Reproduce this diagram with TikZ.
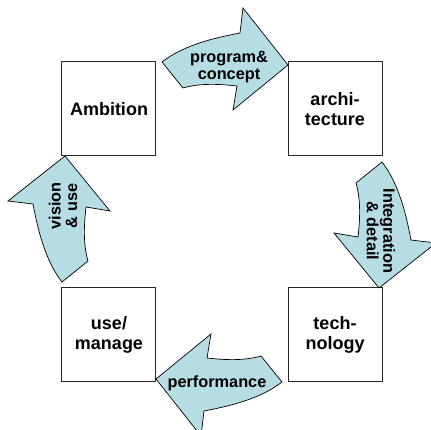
\documentclass[tikz,border=0pt]{standalone}
\usepackage{fontspec}
\setmainfont{Liberation Sans}
\definecolor{arrowblue}{HTML}{B6DDE3}
\begin{document}
\begin{tikzpicture}[x=1pt,y=1pt,
  box/.style={draw=black!85, line width=1pt, fill=white, minimum width=94pt,
    minimum height=94pt, inner sep=0pt, align=center,
    font=\fontsize{18}{20.5}\selectfont\bfseries},
  flow/.style={draw=black, line width=0.7pt, fill=arrowblue, line join=miter},
  flowlabel/.style={align=center, inner sep=0pt,
    font=\fontsize{16.3}{16.5}\selectfont\bfseries},
  % one curved arrow of the cycle, drawn at the top and rotated into place
  cyclearrow/.pic={
    \draw[flow] (-60,160) .. controls (-38,177) and (-8,184) .. (18,189)
      -- (21,214) -- (66,157) -- (11,112) -- (15,136)
      .. controls (-2.9,138) and (-21.7,139) .. (-39,134) -- cycle;
  }]
\useasboundingbox (-222,-208) rectangle (209,222);

% the four stages
\node[box] (ambition) at (-113,113) {Ambition};
\node[box] (architecture) at (113,113) {archi-\\tecture};
\node[box] (technology) at (113,-113) {tech-\\nology};
\node[box] (use) at (-113,-113) {use/\\manage};

% the arrows between them
\pic[rotate=0] (toparrow) {cyclearrow};
\pic[rotate=-90] (rightarrow) {cyclearrow};
\pic[rotate=180] (bottomarrow) {cyclearrow};
\pic[rotate=90] (leftarrow) {cyclearrow};

% arrow labels
\node[flowlabel] (programlabel) at (7,155) {program\&\\concept};
\node[flowlabel, rotate=-90] (integrationlabel) at (159,-9) {Integration\\\& detail};
\node[flowlabel] (performancelabel) at (-5,-161) {performance};
\node[flowlabel, rotate=90] (visionlabel) at (-159,16) {vision\\\& use};
\end{tikzpicture}
\end{document}
